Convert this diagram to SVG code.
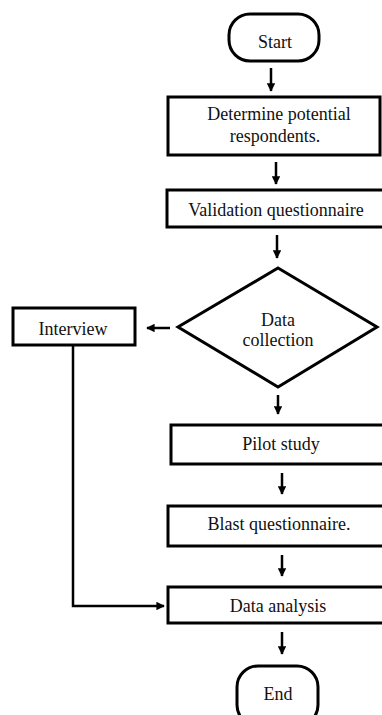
<svg xmlns="http://www.w3.org/2000/svg" width="382" height="715" viewBox="0 0 382 715">
<style>
.box{fill:#fff;stroke:#000;stroke-width:3}
.t{font-family:"Liberation Serif","Times New Roman",serif;font-size:18px;fill:#111;text-anchor:middle}
.c{fill:none;stroke:#000;stroke-width:2.5}
</style>
<defs>
<marker id="ah" viewBox="0 0 10 10" refX="9" refY="5" markerWidth="3.4" markerHeight="3.4" markerUnits="strokeWidth" orient="auto">
<path d="M0,0 L10,5 L0,10 Z" fill="#000"/>
</marker>
</defs>
<rect x="0" y="0" width="382" height="715" fill="#fff"/>
<g id="connectors">
<line class="c" x1="271" y1="68" x2="271" y2="91" marker-end="url(#ah)"/>
<line class="c" x1="276" y1="162" x2="276" y2="184" marker-end="url(#ah)"/>
<line class="c" x1="277" y1="235" x2="277" y2="258" marker-end="url(#ah)"/>
<line class="c" x1="170" y1="328" x2="147" y2="328" marker-end="url(#ah)"/>
<line class="c" x1="278" y1="395" x2="278" y2="414" marker-end="url(#ah)"/>
<line class="c" x1="282" y1="473" x2="282" y2="494" marker-end="url(#ah)"/>
<line class="c" x1="282" y1="555" x2="282" y2="576" marker-end="url(#ah)"/>
<polyline class="c" points="73,345 73,606 164,606" marker-end="url(#ah)"/>
<line class="c" x1="282" y1="632" x2="282" y2="654" marker-end="url(#ah)"/>
</g>
<g id="start">
<rect class="box" x="229" y="14" width="90" height="47" rx="21"/>
<text class="t" x="275" y="48">Start</text>
</g>
<g id="determine">
<rect class="box" x="168" y="97" width="212" height="58"/>
<text class="t" x="279" y="120">Determine potential</text>
<text class="t" x="275" y="142">respondents.</text>
</g>
<g id="validation">
<rect class="box" x="167" y="190" width="225" height="37"/>
<text class="t" x="276" y="216">Validation questionnaire</text>
</g>
<g id="datacollection">
<polygon class="box" points="278,268 377,327 278,387 178,327"/>
<text class="t" x="278" y="326">Data</text>
<text class="t" x="278" y="346">collection</text>
</g>
<g id="interview">
<rect class="box" x="13" y="308" width="122" height="37"/>
<text class="t" x="73" y="335">Interview</text>
</g>
<g id="pilot">
<rect class="box" x="171" y="425" width="221" height="39"/>
<text class="t" x="281" y="450">Pilot study</text>
</g>
<g id="blast">
<rect class="box" x="168" y="506" width="224" height="40"/>
<text class="t" x="279" y="530">Blast questionnaire.</text>
</g>
<g id="analysis">
<rect class="box" x="168" y="587" width="224" height="36"/>
<text class="t" x="278" y="612">Data analysis</text>
</g>
<g id="end">
<rect class="box" x="237" y="666" width="81" height="60" rx="21"/>
<text class="t" x="278" y="700">End</text>
</g>
</svg>
